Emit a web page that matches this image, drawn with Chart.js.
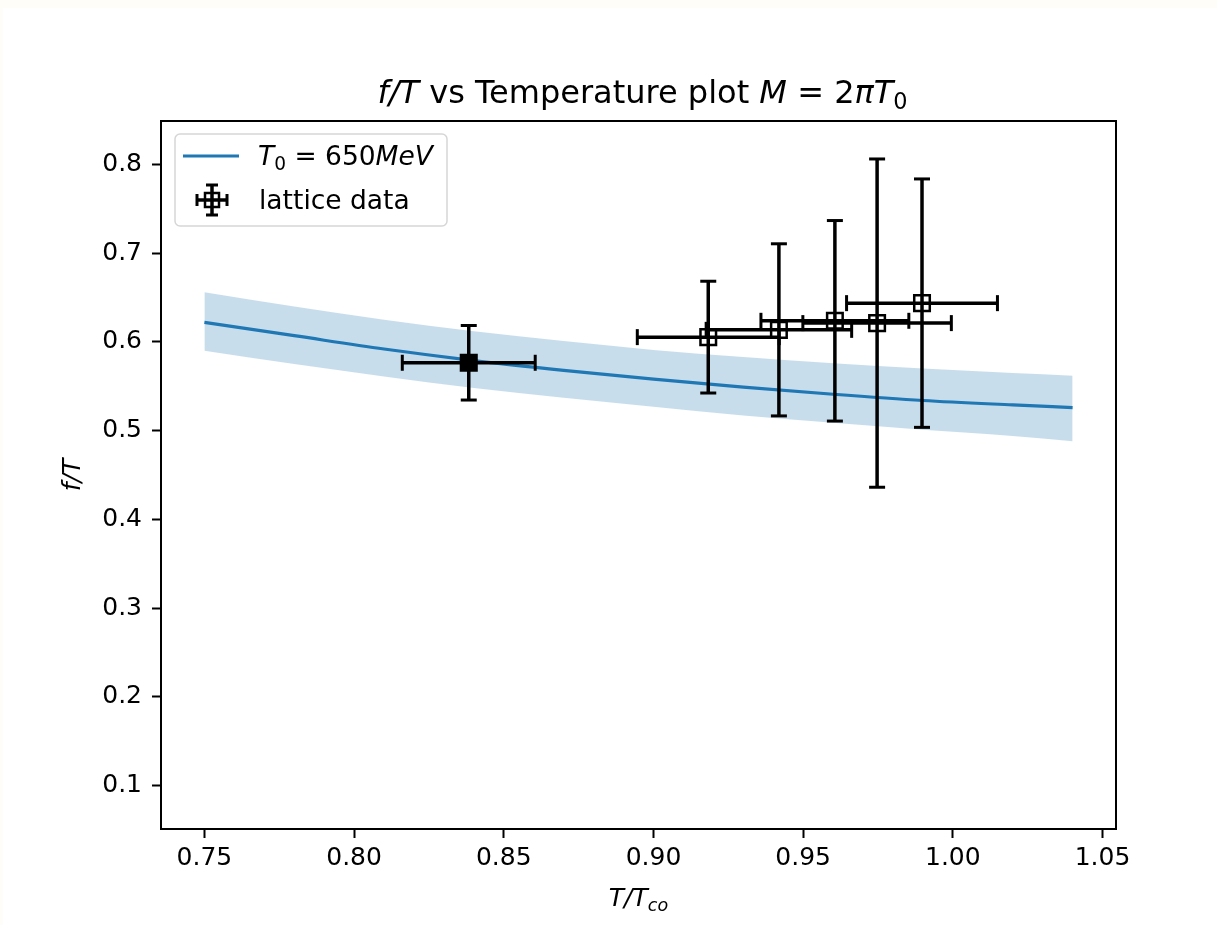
<!DOCTYPE html>
<html>
<head>
<meta charset="utf-8">
<script src="https://cdn.jsdelivr.net/npm/chart.js@4/dist/chart.umd.min.js"></script>
<style>
  html, body { margin: 0; padding: 0; background: #fffdf8; }
  canvas { display: block; }
</style>
</head>
<body>
<canvas id="c" width="1217" height="925"></canvas>
<script>
// ---- data ----
const curveX     = [0.75, 0.78, 0.81, 0.84, 0.87, 0.90, 0.93, 0.96, 0.99, 1.02, 1.04];
const curveY     = [0.622, 0.607, 0.592, 0.579, 0.568, 0.558, 0.549, 0.541, 0.534, 0.529, 0.526];
const bandUpper  = [0.656, 0.640, 0.625, 0.612, 0.601, 0.591, 0.583, 0.576, 0.570, 0.565, 0.562];
const bandLower  = [0.590, 0.575, 0.561, 0.548, 0.537, 0.527, 0.517, 0.509, 0.501, 0.494, 0.488];

const latticeX    = [0.8383, 0.9183, 0.9419, 0.9606, 0.9747, 0.9897];
const latticeY    = [0.5765, 0.6054, 0.6136, 0.6238, 0.6212, 0.6437];
const latticeXErr = [0.0222, 0.0237, 0.0243, 0.0247, 0.0248, 0.0252];
const latticeYErr = [0.042, 0.063, 0.097, 0.113, 0.185, 0.140];
const latticeFill = ['#000000', 'rgba(0,0,0,0)', 'rgba(0,0,0,0)', 'rgba(0,0,0,0)', 'rgba(0,0,0,0)', 'rgba(0,0,0,0)'];

const xTicks      = [0.75, 0.80, 0.85, 0.90, 0.95, 1.00, 1.05];
const xTickLabels = ['0.75', '0.80', '0.85', '0.90', '0.95', '1.00', '1.05'];
const yTicks      = [0.1, 0.2, 0.3, 0.4, 0.5, 0.6, 0.7, 0.8];
const yTickLabels = ['0.1', '0.2', '0.3', '0.4', '0.5', '0.6', '0.7', '0.8'];

const xRange = [0.7355, 1.0545];
const yRange = [0.051, 0.849];

const FONT = "'DejaVu Sans', sans-serif";
const BLUE = '#1f77b4';

// ---- helpers ----
function richWidth(ctx, segs, size) {
  let w = 0;
  for (const s of segs) {
    const fs = s.sub ? size * 0.7 : size;
    ctx.font = (s.italic ? 'italic ' : '') + fs + 'px ' + FONT;
    w += ctx.measureText(s.t).width;
  }
  return w;
}
function drawRich(ctx, segs, x, y, size, align) {
  const w = richWidth(ctx, segs, size);
  let cx = align === 'center' ? x - w / 2 : x;
  ctx.textBaseline = 'alphabetic';
  ctx.textAlign = 'left';
  for (const s of segs) {
    const fs = s.sub ? size * 0.7 : size;
    ctx.font = (s.italic ? 'italic ' : '') + fs + 'px ' + FONT;
    ctx.fillText(s.t, cx, s.sub ? y + size * 0.2 : y);
    cx += ctx.measureText(s.t).width;
  }
}
function seg(ctx, x0, y0, x1, y1) {
  ctx.beginPath(); ctx.moveTo(x0, y0); ctx.lineTo(x1, y1); ctx.stroke();
}

const titleSegs = [
  { t: 'f/T', italic: true },
  { t: ' vs Temperature plot ' },
  { t: 'M', italic: true },
  { t: ' = 2' },
  { t: 'πT', italic: true },
  { t: '0', sub: true }
];
const xLabelSegs = [{ t: 'T/T', italic: true }, { t: 'co', italic: true, sub: true }];
const yLabelSegs = [{ t: 'f/T', italic: true }];
const curveLabelSegs = [{ t: 'T', italic: true }, { t: '0', sub: true }, { t: ' = 650' }, { t: 'MeV', italic: true }];
const latticeLabelSegs = [{ t: 'lattice data' }];

// ---- plugins ----
const backgroundPlugin = {
  id: 'bg',
  beforeDraw(chart) {
    const ctx = chart.ctx;
    ctx.save();
    ctx.fillStyle = '#fffdf8';
    ctx.fillRect(0, 0, chart.width, chart.height);
    ctx.fillStyle = '#ffffff';
    ctx.fillRect(3, 8, chart.width - 3, chart.height - 8);
    ctx.restore();
  }
};

const errorBarPlugin = {
  id: 'errorBars',
  beforeDatasetDraw(chart, args) {
    if (chart.data.datasets[args.index].kind !== 'lattice') return;
    const xs = chart.scales.x, ys = chart.scales.y, ctx = chart.ctx;
    const cap = 8;
    ctx.save();
    ctx.strokeStyle = '#000';
    ctx.lineWidth = 3.5;
    latticeX.forEach((x, i) => {
      const px = xs.getPixelForValue(x), py = ys.getPixelForValue(latticeY[i]);
      const xa = xs.getPixelForValue(x - latticeXErr[i]), xb = xs.getPixelForValue(x + latticeXErr[i]);
      const ya = ys.getPixelForValue(latticeY[i] - latticeYErr[i]), yb = ys.getPixelForValue(latticeY[i] + latticeYErr[i]);
      seg(ctx, xa, py, xb, py);
      seg(ctx, px, ya, px, yb);
    });
    ctx.lineWidth = 3;
    latticeX.forEach((x, i) => {
      const px = xs.getPixelForValue(x), py = ys.getPixelForValue(latticeY[i]);
      const xa = xs.getPixelForValue(x - latticeXErr[i]), xb = xs.getPixelForValue(x + latticeXErr[i]);
      const ya = ys.getPixelForValue(latticeY[i] - latticeYErr[i]), yb = ys.getPixelForValue(latticeY[i] + latticeYErr[i]);
      seg(ctx, xa, py - cap, xa, py + cap);
      seg(ctx, xb, py - cap, xb, py + cap);
      seg(ctx, px - cap, ya, px + cap, ya);
      seg(ctx, px - cap, yb, px + cap, yb);
    });
    ctx.restore();
  }
};

const decorPlugin = {
  id: 'decor',
  afterDraw(chart) {
    const ctx = chart.ctx, a = chart.chartArea;
    ctx.save();
    // spines
    ctx.strokeStyle = '#000';
    ctx.lineWidth = 2;
    ctx.strokeRect(a.left, a.top, a.right - a.left, a.bottom - a.top);
    // title
    ctx.fillStyle = '#000';
    const cx = (a.left + a.right) / 2;
    drawRich(ctx, titleSegs, cx + 4, 103, 32, 'center');
    // x label
    drawRich(ctx, xLabelSegs, cx, 906, 25, 'center');
    // y label
    ctx.save();
    ctx.translate(80, (a.top + a.bottom) / 2);
    ctx.rotate(-Math.PI / 2);
    drawRich(ctx, yLabelSegs, 0, 0, 25, 'center');
    ctx.restore();
    // legend
    const lx = 175, ly = 134, lw = 272, lh = 92, r = 5;
    ctx.beginPath();
    ctx.moveTo(lx + r, ly);
    ctx.arcTo(lx + lw, ly, lx + lw, ly + lh, r);
    ctx.arcTo(lx + lw, ly + lh, lx, ly + lh, r);
    ctx.arcTo(lx, ly + lh, lx, ly, r);
    ctx.arcTo(lx, ly, lx + lw, ly, r);
    ctx.closePath();
    ctx.fillStyle = 'rgba(255,255,255,0.8)';
    ctx.fill();
    ctx.strokeStyle = '#d6d6d6';
    ctx.lineWidth = 1.5;
    ctx.stroke();
    // entry 1: line
    ctx.strokeStyle = BLUE;
    ctx.lineWidth = 3.2;
    seg(ctx, 183, 156, 239, 156);
    ctx.fillStyle = '#000';
    drawRich(ctx, curveLabelSegs, 258, 165, 26.5, 'left');
    // entry 2: errorbar marker
    const mx = 212, my = 200;
    ctx.strokeStyle = '#000';
    ctx.lineWidth = 3.5;
    seg(ctx, mx - 15, my, mx + 15, my);
    seg(ctx, mx, my - 15, mx, my + 15);
    ctx.lineWidth = 3;
    seg(ctx, mx - 15, my - 6, mx - 15, my + 6);
    seg(ctx, mx + 15, my - 6, mx + 15, my + 6);
    seg(ctx, mx - 6, my - 15, mx + 6, my - 15);
    seg(ctx, mx - 6, my + 15, mx + 6, my + 15);
    ctx.lineWidth = 2.5;
    ctx.strokeRect(mx - 7, my - 7, 14, 14);
    drawRich(ctx, latticeLabelSegs, 259, 209, 26.5, 'left');
    ctx.restore();
  }
};

// ---- chart ----
const pts = (xs, ys) => xs.map((x, i) => ({ x: x, y: ys[i] }));

new Chart(document.getElementById('c'), {
  type: 'scatter',
  data: {
    datasets: [
      {
        label: 'band lower',
        data: pts(curveX, bandLower),
        showLine: true,
        borderColor: 'rgba(0,0,0,0)',
        borderWidth: 0,
        pointRadius: 0,
        fill: false,
        cubicInterpolationMode: 'monotone',
        order: 3
      },
      {
        label: 'band upper',
        data: pts(curveX, bandUpper),
        showLine: true,
        borderColor: 'rgba(0,0,0,0)',
        borderWidth: 0,
        pointRadius: 0,
        fill: '-1',
        backgroundColor: 'rgba(31,119,180,0.25)',
        cubicInterpolationMode: 'monotone',
        order: 3
      },
      {
        label: 'T0 = 650MeV',
        data: pts(curveX, curveY),
        showLine: true,
        borderColor: BLUE,
        borderWidth: 3.2,
        pointRadius: 0,
        fill: false,
        cubicInterpolationMode: 'monotone',
        order: 2
      },
      {
        label: 'lattice data',
        kind: 'lattice',
        data: pts(latticeX, latticeY),
        showLine: false,
        pointStyle: 'rect',
        pointRadius: 11,
        pointBorderWidth: 2.5,
        borderColor: '#000',
        pointBorderColor: '#000',
        pointBackgroundColor: latticeFill,
        backgroundColor: latticeFill,
        order: 1
      }
    ]
  },
  options: {
    responsive: false,
    animation: false,
    events: [],
    layout: { padding: { left: 0, right: 101, top: 121, bottom: 0 } },
    plugins: {
      legend: { display: false },
      title: { display: false },
      tooltip: { enabled: false }
    },
    scales: {
      x: {
        type: 'linear',
        min: xRange[0],
        max: xRange[1],
        afterBuildTicks: s => { s.ticks = xTicks.map(v => ({ value: v })); },
        afterFit: s => { s.height = 96; },
        ticks: {
          callback: (v, i) => xTickLabels[i],
          font: { family: FONT, size: 25 },
          color: '#000',
          padding: 5,
          maxRotation: 0,
          autoSkip: false
        },
        grid: { display: true, drawOnChartArea: false, tickLength: 9, tickWidth: 2, tickColor: '#000', color: '#000' },
        border: { display: false }
      },
      y: {
        type: 'linear',
        min: yRange[0],
        max: yRange[1],
        afterBuildTicks: s => { s.ticks = yTicks.map(v => ({ value: v })); },
        afterFit: s => { s.width = 161; },
        ticks: {
          callback: (v, i) => yTickLabels[i],
          font: { family: FONT, size: 25 },
          color: '#000',
          padding: 10,
          autoSkip: false
        },
        grid: { display: true, drawOnChartArea: false, tickLength: 9, tickWidth: 2, tickColor: '#000', color: '#000' },
        border: { display: false }
      }
    }
  },
  plugins: [backgroundPlugin, errorBarPlugin, decorPlugin]
});
</script>
</body>
</html>
